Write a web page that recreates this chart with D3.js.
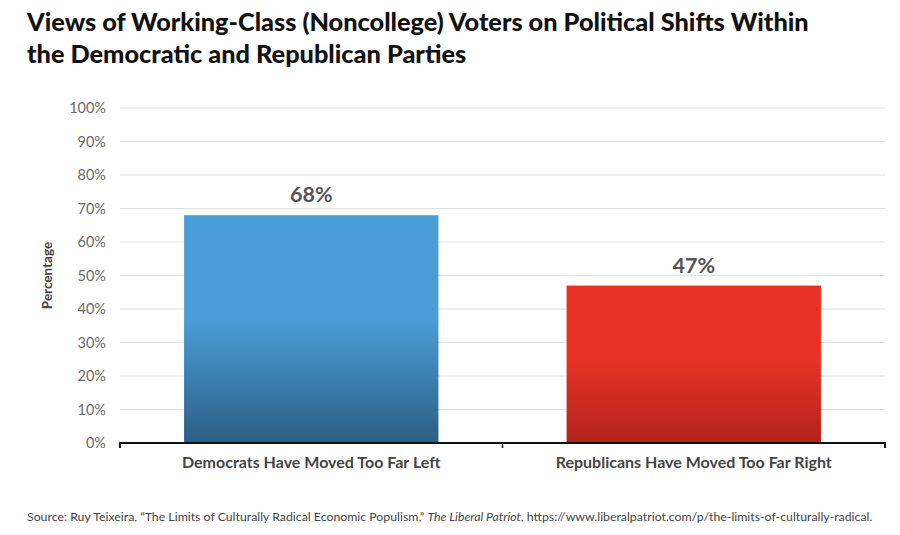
<!DOCTYPE html>
<html>
<head>
<meta charset="utf-8">
<script src="https://cdn.jsdelivr.net/npm/d3@7"></script>
<style>
  body { margin: 0; background: #fff; }
  svg { display: block; font-family: Lato, "Open Sans", sans-serif; }
</style>
</head>
<body>
<div id="chart"></div>
<script>
// data
let categories = ["Democrats Have Moved Too Far Left", "Republicans Have Moved Too Far Right"];
let values = [68, 47];
let yTicks = [0, 10, 20, 30, 40, 50, 60, 70, 80, 90, 100];
let titleLines = [
  "Views of Working-Class (Noncollege) Voters on Political Shifts Within",
  "the Democratic and Republican Parties"
];
let sourceText = "Source: Ruy Teixeira, \u201CThe Limits of Culturally Radical Economic Populism,\u201D ";
let sourceItalic = "The Liberal Patriot";
let sourceTail = ", https://www.liberalpatriot.com/p/the-limits-of-culturally-radical.";

let w = 900, h = 535;
let plotLeft = 120, plotRight = 885, plotTop = 108, plotBottom = 443;

let viz = d3.select("#chart").append("svg")
  .attr("width", w)
  .attr("height", h);

// gradients for the bars
let defs = viz.append("defs");
let grads = [["gradBlue", "#4a9ed8", "#2c5e84"], ["gradRed", "#e83324", "#b3231b"]];
grads.forEach(function(g){
  let lg = defs.append("linearGradient").attr("id", g[0])
    .attr("x1", 0).attr("y1", 0).attr("x2", 0).attr("y2", 1);
  lg.append("stop").attr("offset", "0%").attr("stop-color", g[1]);
  lg.append("stop").attr("offset", "45%").attr("stop-color", g[1]);
  lg.append("stop").attr("offset", "100%").attr("stop-color", g[2]);
});

// title
viz.append("g").selectAll("text").data(titleLines).enter()
  .append("text")
  .attr("x", 27)
  .attr("y", function(d, i){ return 31 + i * 32; })
  .attr("font-size", 25.3)
  .attr("font-weight", 900)
  .attr("fill", "#111")
  .text(function(d){ return d; });

let xScale = d3.scaleBand().domain(categories).range([plotLeft, plotRight]).paddingInner(0.335).paddingOuter(0.1675);
let yScale = d3.scaleLinear().domain([0, 100]).range([plotBottom, plotTop]);

// gridlines
viz.append("g").selectAll("line").data(yTicks.slice(1)).enter()
  .append("line")
  .attr("x1", plotLeft).attr("x2", plotRight)
  .attr("y1", function(d){ return yScale(d); })
  .attr("y2", function(d){ return yScale(d); })
  .attr("stroke", "#e0e0e0")
  .attr("stroke-width", 1);

// y axis labels
let yAxis = d3.axisLeft(yScale).tickValues(yTicks).tickFormat(function(d){ return d + "%"; }).tickSize(0).tickPadding(14);
let yAxisGroup = viz.append("g").attr("transform", "translate(" + plotLeft + ",0)").call(yAxis);
yAxisGroup.select(".domain").remove();
yAxisGroup.selectAll("text").attr("font-size", 14.5).attr("fill", "#6a6a6a").attr("font-family", "Lato, sans-serif");

// bars
viz.append("g").selectAll("rect").data(values).enter()
  .append("rect")
  .attr("x", function(d, i){ return xScale(categories[i]); })
  .attr("width", xScale.bandwidth())
  .attr("y", function(d){ return yScale(d); })
  .attr("height", function(d){ return plotBottom - yScale(d); })
  .attr("fill", function(d, i){ return i == 0 ? "url(#gradBlue)" : "url(#gradRed)"; });

// value labels
viz.append("g").selectAll("text").data(values).enter()
  .append("text")
  .attr("x", function(d, i){ return xScale(categories[i]) + xScale.bandwidth() / 2; })
  .attr("y", function(d){ return yScale(d) - 13; })
  .attr("text-anchor", "middle")
  .attr("font-size", 21.5)
  .attr("font-weight", 700)
  .attr("fill", "#555")
  .text(function(d){ return d + "%"; });

// x axis
let xAxis = d3.axisBottom(xScale).tickSize(0).tickPadding(14);
let xAxisGroup = viz.append("g").attr("transform", "translate(0," + plotBottom + ")").call(xAxis);
xAxisGroup.select(".domain").attr("stroke", "#111").attr("stroke-width", 2).attr("d", "M" + plotLeft + ",5V0H" + plotRight + "V5");
xAxisGroup.selectAll("text").attr("font-size", 16).attr("font-weight", 700).attr("fill", "#444").attr("font-family", "Lato, sans-serif");
// separator tick between the categories
viz.append("line")
  .attr("x1", (plotLeft + plotRight) / 2).attr("x2", (plotLeft + plotRight) / 2)
  .attr("y1", plotBottom).attr("y2", plotBottom + 5)
  .attr("stroke", "#111").attr("stroke-width", 1.5);

// y axis title
viz.append("text")
  .attr("transform", "translate(52," + ((plotTop + plotBottom) / 2) + ") rotate(-90)")
  .attr("text-anchor", "middle")
  .attr("font-size", 13.5)
  .attr("font-weight", 700)
  .attr("fill", "#444")
  .text("Percentage");

// source
let src = viz.append("text")
  .attr("x", 27).attr("y", 521)
  .attr("font-size", 12.3)
  .attr("fill", "#444");
src.append("tspan").text(sourceText);
src.append("tspan").attr("font-style", "italic").text(sourceItalic);
src.append("tspan").text(sourceTail);
</script>
</body>
</html>
